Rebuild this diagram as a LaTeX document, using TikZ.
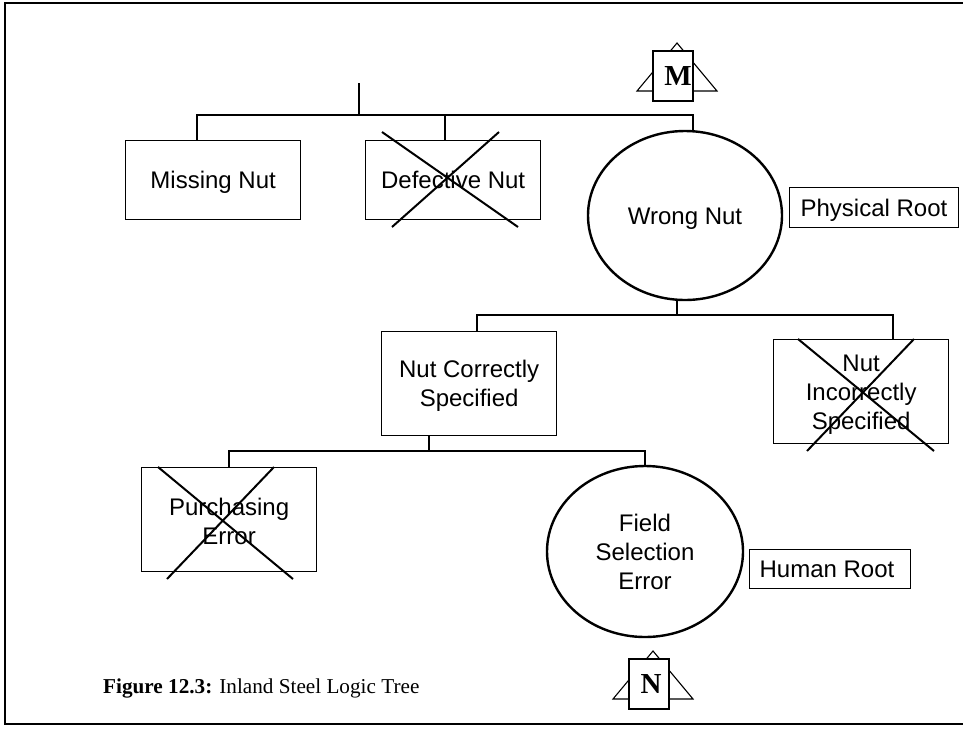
\documentclass[tikz,border=0pt]{standalone}
\usepackage{fontspec}
\setmainfont{Liberation Serif}
\setsansfont{Liberation Sans}
\usetikzlibrary{shapes.geometric}
\newcommand{\lowtext}[2]{\raisebox{-#1pt}[8pt][8pt]{#2}}
\newcommand{\toppad}[1]{\rule{0pt}{#1pt}}
\tikzset{
  x=1pt,y=-1pt,
  ln/.style={draw=black,line width=1.3pt},
  boxn/.style={draw=black,line width=1.3pt,fill=white,anchor=north west,inner sep=0pt,align=center,font=\sffamily\fontsize{24}{29}\selectfont},
  circn/.style={draw=black,line width=2.4pt,ellipse,fill=white,inner sep=0pt,align=center,font=\sffamily\fontsize{24}{29}\selectfont},
  lab/.style={draw=black,line width=.9pt,fill=white,anchor=north west,inner sep=0pt,font=\sffamily\fontsize{24}{29}\selectfont},
  xline/.style={draw=black,line width=2pt},
  tri/.style={draw=black,line width=1.1pt,fill=white},
  tag/.style={draw=black,line width=1.3pt,fill=white,inner sep=0pt,minimum width=40pt,minimum height=50pt,font=\rmfamily\bfseries\fontsize{29}{32}\selectfont},
}
\begin{document}
\begin{tikzpicture}
\useasboundingbox (0,0) rectangle (963,729);
\draw[black,line width=2pt] (963,3) -- (5,3) -- (5,724) -- (963,724);
\coordinate (stem) at (359,83);
\coordinate (bar) at (359,115);
\node[boxn,minimum width=175pt,minimum height=79pt] (missing) at (125,140) {\lowtext{8.5}{Missing Nut}};
\node[boxn,minimum width=175pt,minimum height=79pt] (defective) at (365,140) {\lowtext{8.5}{Defective Nut}};
\node[circn,minimum width=194pt,minimum height=169pt] (wrong) at (685,215.5) {\lowtext{8.5}{Wrong Nut}};
\node[boxn,minimum width=175pt,minimum height=104pt] (correct) at (381,331) {\toppad{21.5}Nut Correctly\\Specified};
\node[boxn,minimum width=175pt,minimum height=104pt] (incorrect) at (773,339) {\toppad{23.5}Nut\\Incorrectly\\Specified};
\node[boxn,minimum width=175pt,minimum height=104pt] (purch) at (141,467) {\toppad{20.5}Purchasing\\Error};
\node[circn,minimum width=196pt,minimum height=171pt] (field) at (645,551.5) {Field\\Selection\\Error};
\node[lab,minimum width=169pt,minimum height=40pt] (phys) at (789,187) {\lowtext{9}{Physical Root}};
\node[lab,minimum width=161pt,minimum height=39pt] (human) at (749,549) {\lowtext{8.5}{Human Root\hspace*{6pt}}};
% connectors
\draw[ln] (stem) -- (bar);
\draw[ln] (197,140) -- (197,115) -- (693,115) -- (693,131);
\draw[ln] (445,115) -- (445,140);
\draw[ln] (677,300) -- (677,315);
\draw[ln] (477,331) -- (477,315) -- (893,315) -- (893,339);
\draw[ln] (429,435) -- (429,451);
\draw[ln] (229,467) -- (229,451) -- (645,451) -- (645,466);
% crosses
\draw[xline] (382,132) -- (518,227);
\draw[xline] (499,132) -- (392,227);
\draw[xline] (798,339) -- (934,451);
\draw[xline] (914,339) -- (807,451);
\draw[xline] (158,467) -- (293,579);
\draw[xline] (274,467) -- (167,579);
% tags
\draw[tri] (637,91) -- (677,43) -- (717,91) -- cycle;
\node[tag] (m) at (673,76) {\hspace*{10pt}M};
\draw[tri] (613,699) -- (653,651) -- (693,699) -- cycle;
\node[tag] (n) at (649,684) {\hspace*{4pt}N};
\node[anchor=west,inner sep=0pt,font=\rmfamily\fontsize{21.2}{23}\selectfont] (cap) at (103,688) {\textbf{Figure 12.3:} Inland Steel Logic Tree};
\end{tikzpicture}
\end{document}
